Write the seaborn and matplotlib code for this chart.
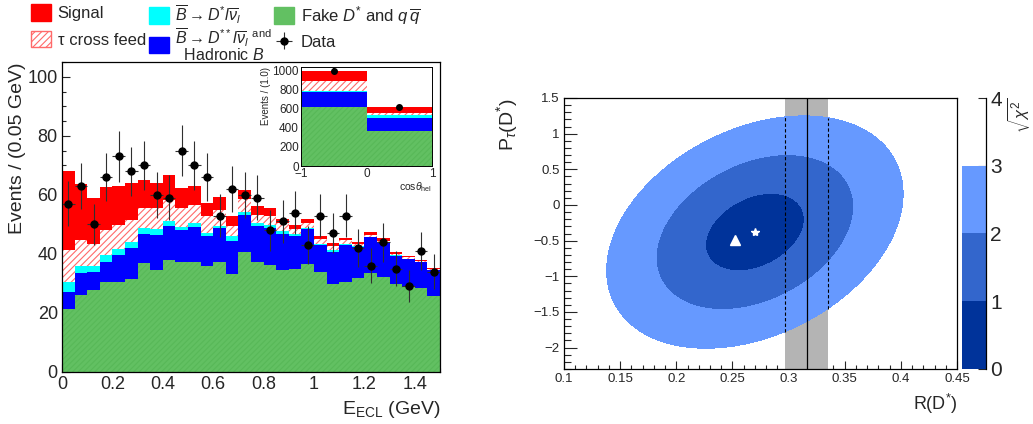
import numpy as np
import pandas as pd
import matplotlib
matplotlib.use("Agg")
import matplotlib.pyplot as plt
import seaborn as sns
from matplotlib.patches import Patch
from matplotlib.ticker import MultipleLocator, FuncFormatter

# ---------------- data ----------------
# E_ECL histogram: 30 bins of 0.05 GeV from 0 to 1.5
e_edges = [round(0.05 * i, 3) for i in range(31)]
e_centers = [round(0.05 * i + 0.025, 4) for i in range(30)]

fake = [21.2, 26.1, 27.8, 30.6, 30.6, 31.4, 36.8, 34.6, 38.0, 37.1, 37.4, 35.9, 37.4, 33.2, 40.8,
        37.4, 36.3, 34.6, 34.9, 36.5, 33.9, 29.8, 30.5, 31.7, 33.4, 32.3, 29.7, 28.9, 28.6, 25.8]
dss = [6.0, 7.3, 6.2, 6.8, 9.1, 10.5, 10.0, 11.8, 11.5, 11.0, 11.8, 10.0, 11.5, 11.3, 12.4,
       12.1, 12.5, 12.3, 11.1, 11.9, 9.0, 11.0, 12.5, 10.8, 12.2, 11.8, 9.6, 9.3, 8.5, 8.7]
dstar = [3.2, 2.5, 2.0, 2.3, 1.9, 2.3, 1.9, 2.0, 1.7, 0.9, 1.2, 1.3, 0.7, 1.4, 1.1,
         0.9, 0.9, 0.8, 0.9, 0.4, 0.4, 0.4, 0.4, 0.2, 0.2, 0.1, 0.2, 0.2, 0.1, 0.1]
xfeed = [11.0, 8.8, 7.3, 8.4, 8.2, 7.3, 6.8, 7.1, 7.1, 6.5, 6.2, 5.5, 5.3, 3.7, 4.2,
         2.8, 3.3, 2.7, 1.5, 1.8, 1.6, 1.5, 1.3, 0.7, 0.7, 0.2, 0.5, 0.5, 0.3, 0.2]
signal = [26.7, 19.0, 15.6, 14.7, 13.3, 12.6, 9.6, 8.6, 8.3, 6.8, 6.5, 4.5, 4.3, 3.3, 3.2,
          2.9, 2.7, 1.5, 1.4, 1.3, 1.0, 1.1, 0.8, 0.8, 0.8, 0.9, 0.8, 0.4, 0.5, 0.5]
data_counts = [57, 63, 50, 66, 73, 68, 70, 60, 59, 75, 70, 66, 53, 62, 60,
               59, 48, 51, 54, 43, 53, 47, 53, 42, 36, 44, 35, 29, 41, 34]

# inset: cos(theta_hel), 2 bins
cos_edges = [-1.0, 0.0, 1.0]
cos_centers = [-0.5, 0.5]
fake_in = [625, 368]
dss_in = [156, 139]
dstar_in = [11, 24]
xfeed_in = [97, 25]
signal_in = [111, 69]
data_in = [1000, 620]

# right panel: fit result, SM prediction, R(D*) band
fit_R, fit_P = 0.270, -0.38
sig_R, sig_P, rho = 0.044, 0.543, 0.33
sm_R, sm_P = 0.252, -0.497
band_R, band_err = 0.316, 0.019
chi_levels = [0, 1, 2, 3, 4]

comp_names = ["Signal", "tau cross feed", "Dstar", "Dss", "Fake"]
c_sig, c_xf, c_dst, c_dss, c_fake = "#ff0000", "#ffffff", "#00ffff", "#0000ff", "#62c062"
palette = dict(zip(comp_names, [c_sig, c_xf, c_dst, c_dss, c_fake]))
hatch_col = "#ff6a6a"

# ---------------- style ----------------
sns.set_theme(style="white")
plt.rcParams["font.family"] = ["Liberation Sans", "DejaVu Sans"]
plt.rcParams["mathtext.fontset"] = "custom"
plt.rcParams["mathtext.rm"] = "Liberation Sans"
plt.rcParams["mathtext.it"] = "Liberation Sans:italic"
plt.rcParams["mathtext.bf"] = "Liberation Sans:bold"
plt.rcParams["hatch.linewidth"] = 0.8
plt.rcParams["axes.edgecolor"] = "black"
plt.rcParams["axes.linewidth"] = 0.9

W, H = 1033, 424
fig = plt.figure(figsize=(W / 100, H / 100), dpi=100)

def fx(px): return px / W
def fy(py): return 1 - py / H

def g_fmt(v, pos):
    s = "%g" % v
    return s.replace("-", "\u2212")

def stack_hist(ax, centers, edges, comps):
    n = len(centers)
    df = pd.DataFrame({
        "x": list(centers) * len(comp_names),
        "w": [v for c in comps for v in c],
        "comp": [name for name in comp_names for _ in range(n)],
    })
    sns.histplot(data=df, x="x", weights="w", hue="comp", hue_order=comp_names,
                 multiple="stack", bins=list(edges), palette=palette, element="bars",
                 linewidth=0, alpha=1, shrink=1, legend=False, ax=ax)
    for p in ax.patches:
        fc = matplotlib.colors.to_hex(p.get_facecolor())
        if fc == c_xf:
            p.set_edgecolor(hatch_col)
            p.set_hatch("/////")
            p.set_linewidth(0)
        elif fc == c_fake:
            p.set_edgecolor("#58b858")
            p.set_hatch("//////")
            p.set_linewidth(0)

def root_ticks(a):
    a.tick_params(which="both", direction="in", bottom=True, left=True, top=False, right=False)
    for s in a.spines.values():
        s.set_visible(True)
        s.set_zorder(10)

# ---------------- left: E_ECL ----------------
ax = fig.add_axes([fx(62), fy(372), fx(440) - fx(62), fy(62) - fy(372)])
stack_hist(ax, e_centers, e_edges, [signal, xfeed, dstar, dss, fake])
derr = ax.errorbar(e_centers, data_counts, yerr=np.sqrt(data_counts), xerr=0.025,
                   fmt="o", color="black", ecolor="#303030", elinewidth=0.8,
                   markersize=5, capsize=0, zorder=5, label="Data")
ax.set_xlim(0, 1.5)
ax.set_ylim(0, 105)
ax.xaxis.set_major_locator(MultipleLocator(0.2))
ax.xaxis.set_minor_locator(MultipleLocator(0.05))
ax.yaxis.set_major_locator(MultipleLocator(20))
ax.yaxis.set_minor_locator(MultipleLocator(5))
ax.xaxis.set_major_formatter(FuncFormatter(g_fmt))
root_ticks(ax)
ax.tick_params(which="both", labelsize=13, pad=3)
ax.tick_params(which="major", length=6, width=0.8)
ax.tick_params(which="minor", length=3, width=0.8)
ax.set_xlabel(r"E$_{\rm ECL}$ (GeV)", loc="right", fontsize=14, labelpad=4)
ax.set_ylabel("Events / (0.05 GeV)", loc="top", fontsize=14, labelpad=1)

# ---------------- inset ----------------
axi = fig.add_axes([fx(301), fy(166), fx(432) - fx(301), fy(67) - fy(166)])
stack_hist(axi, cos_centers, cos_edges, [signal_in, xfeed_in, dstar_in, dss_in, fake_in])
axi.errorbar(cos_centers, data_in, yerr=np.sqrt(data_in), fmt="o", color="black",
             ecolor="black", markersize=4, capsize=0, zorder=5)
axi.set_xlim(-1, 1)
axi.set_ylim(0, 1040)
axi.xaxis.set_major_locator(MultipleLocator(1))
axi.xaxis.set_minor_locator(MultipleLocator(0.1))
axi.yaxis.set_major_locator(MultipleLocator(200))
axi.yaxis.set_minor_locator(MultipleLocator(50))
axi.xaxis.set_major_formatter(FuncFormatter(g_fmt))
root_ticks(axi)
axi.tick_params(which="both", labelsize=8.5, pad=1.5)
axi.tick_params(which="major", length=4, width=0.7)
axi.tick_params(which="minor", length=2, width=0.6)
axi.set_xlabel(r"cos$\theta_{\rm hel}$", loc="right", fontsize=7.5, labelpad=0)
axi.set_ylabel("Events / (1.0)", loc="top", fontsize=7, labelpad=1)
for s in axi.spines.values():
    s.set_linewidth(0.7)

# ---------------- legend (three columns) ----------------
col1 = [Patch(facecolor=c_sig, edgecolor=c_sig, label="Signal"),
        Patch(facecolor="white", edgecolor=hatch_col, hatch="/////", label="\u03c4 cross feed")]
col2 = [Patch(facecolor=c_dst, edgecolor=c_dst,
              label=r"$\overline{B}{\rightarrow}D^{*}l\overline{\nu}_l$"),
        Patch(facecolor=c_dss, edgecolor=c_dss,
              label=r"$\overline{B}{\rightarrow}D^{**}l\overline{\nu}_l\ {}^{\mathrm{and}}$"
                    + "\n  Hadronic $B$")]
col3 = [Patch(facecolor=c_fake, edgecolor=c_fake, label=r"Fake $D^{*}$ and $q\,\overline{q}$"),
        derr]
for hs, x0, y0, fs, ls in ((col1, 31, 4, 12, 0.6), (col2, 149, 3, 11.5, 0.05),
                           (col3, 274, 4, 12, 0.4)):
    leg = fig.legend(handles=hs, loc="upper left", bbox_to_anchor=(fx(x0), fy(y0)), ncol=1,
                     frameon=False, fontsize=fs, handlelength=1.2 * 12 / fs,
                     handleheight=1.15 * 12 / fs,
                     handletextpad=0.4, labelspacing=ls, borderaxespad=0, borderpad=0)
    for t in leg.get_texts():
        t.set_linespacing(0.8)

# ---------------- right: contours ----------------
axr = fig.add_axes([fx(564), fy(369), fx(957) - fx(564), fy(98) - fy(369)])
rg = np.linspace(0.1, 0.45, 600)
pg = np.linspace(-2.3, 1.5, 600)
RR, PP = np.meshgrid(rg, pg)
dR = (RR - fit_R) / sig_R
dP = (PP - fit_P) / sig_P
chi = np.sqrt((dR ** 2 - 2 * rho * dR * dP + dP ** 2) / (1 - rho ** 2))

axr.axvspan(band_R - band_err, band_R + band_err, color="#b4b4b4", lw=0, zorder=1)
cf = axr.contourf(RR, PP, chi, levels=chi_levels,
                  colors=["#00339a", "#3366cc", "#6699ff", "none"], zorder=2)

def p_range(r, n):
    d = (r - fit_R) / sig_R
    disc = np.sqrt((1 - rho ** 2) * (n ** 2 - d ** 2))
    return fit_P + sig_P * (rho * d - disc), fit_P + sig_P * (rho * d + disc)

for r in (band_R - band_err, band_R + band_err):
    lo, hi = p_range(r, 3)
    axr.plot([r, r], [lo, hi], ls=(0, (3, 2)), color="black", lw=0.8, zorder=3)
axr.axvline(band_R, color="black", lw=0.9, zorder=3)
axr.plot([sm_R], [sm_P], marker="^", color="white", markersize=7, ls="none", zorder=4)
axr.plot([fit_R], [fit_P], marker="*", color="white", markersize=6, ls="none", zorder=4)

axr.set_xlim(0.1, 0.45)
axr.set_ylim(-2.3, 1.5)
axr.xaxis.set_major_locator(MultipleLocator(0.05))
axr.xaxis.set_minor_locator(MultipleLocator(0.01))
axr.yaxis.set_major_locator(MultipleLocator(0.5))
axr.yaxis.set_minor_locator(MultipleLocator(0.1))
axr.xaxis.set_major_formatter(FuncFormatter(g_fmt))
axr.yaxis.set_major_formatter(FuncFormatter(g_fmt))
root_ticks(axr)
axr.tick_params(which="both", labelsize=9.5, pad=3)
axr.tick_params(axis="y", which="major", length=9, width=0.8)
axr.tick_params(axis="y", which="minor", length=5, width=0.8)
axr.tick_params(axis="x", which="major", length=6, width=0.8)
axr.tick_params(axis="x", which="minor", length=3, width=0.8)
axr.set_xlabel(r"R(D$^{*}$)", loc="right", fontsize=13, labelpad=5)
axr.set_ylabel(r"P$_{\tau}$(D$^{*}$)", loc="top", fontsize=14, labelpad=10)

# colorbar
cax = fig.add_axes([fx(962), fy(369), fx(986) - fx(962), fy(98) - fy(369)])
cb = fig.colorbar(cf, cax=cax, ticks=chi_levels)
cb.outline.set_visible(False)
cax.spines["right"].set_visible(True)
cax.spines["right"].set_color("black")
cax.spines["right"].set_linewidth(0.9)
cax.tick_params(direction="in", right=True, length=6, width=0.8, labelsize=15, pad=3)
cax.set_ylabel(r"$\sqrt{\chi^2}$", loc="top", fontsize=12, labelpad=2, rotation=90)

fig.savefig("out.png", dpi=100)
